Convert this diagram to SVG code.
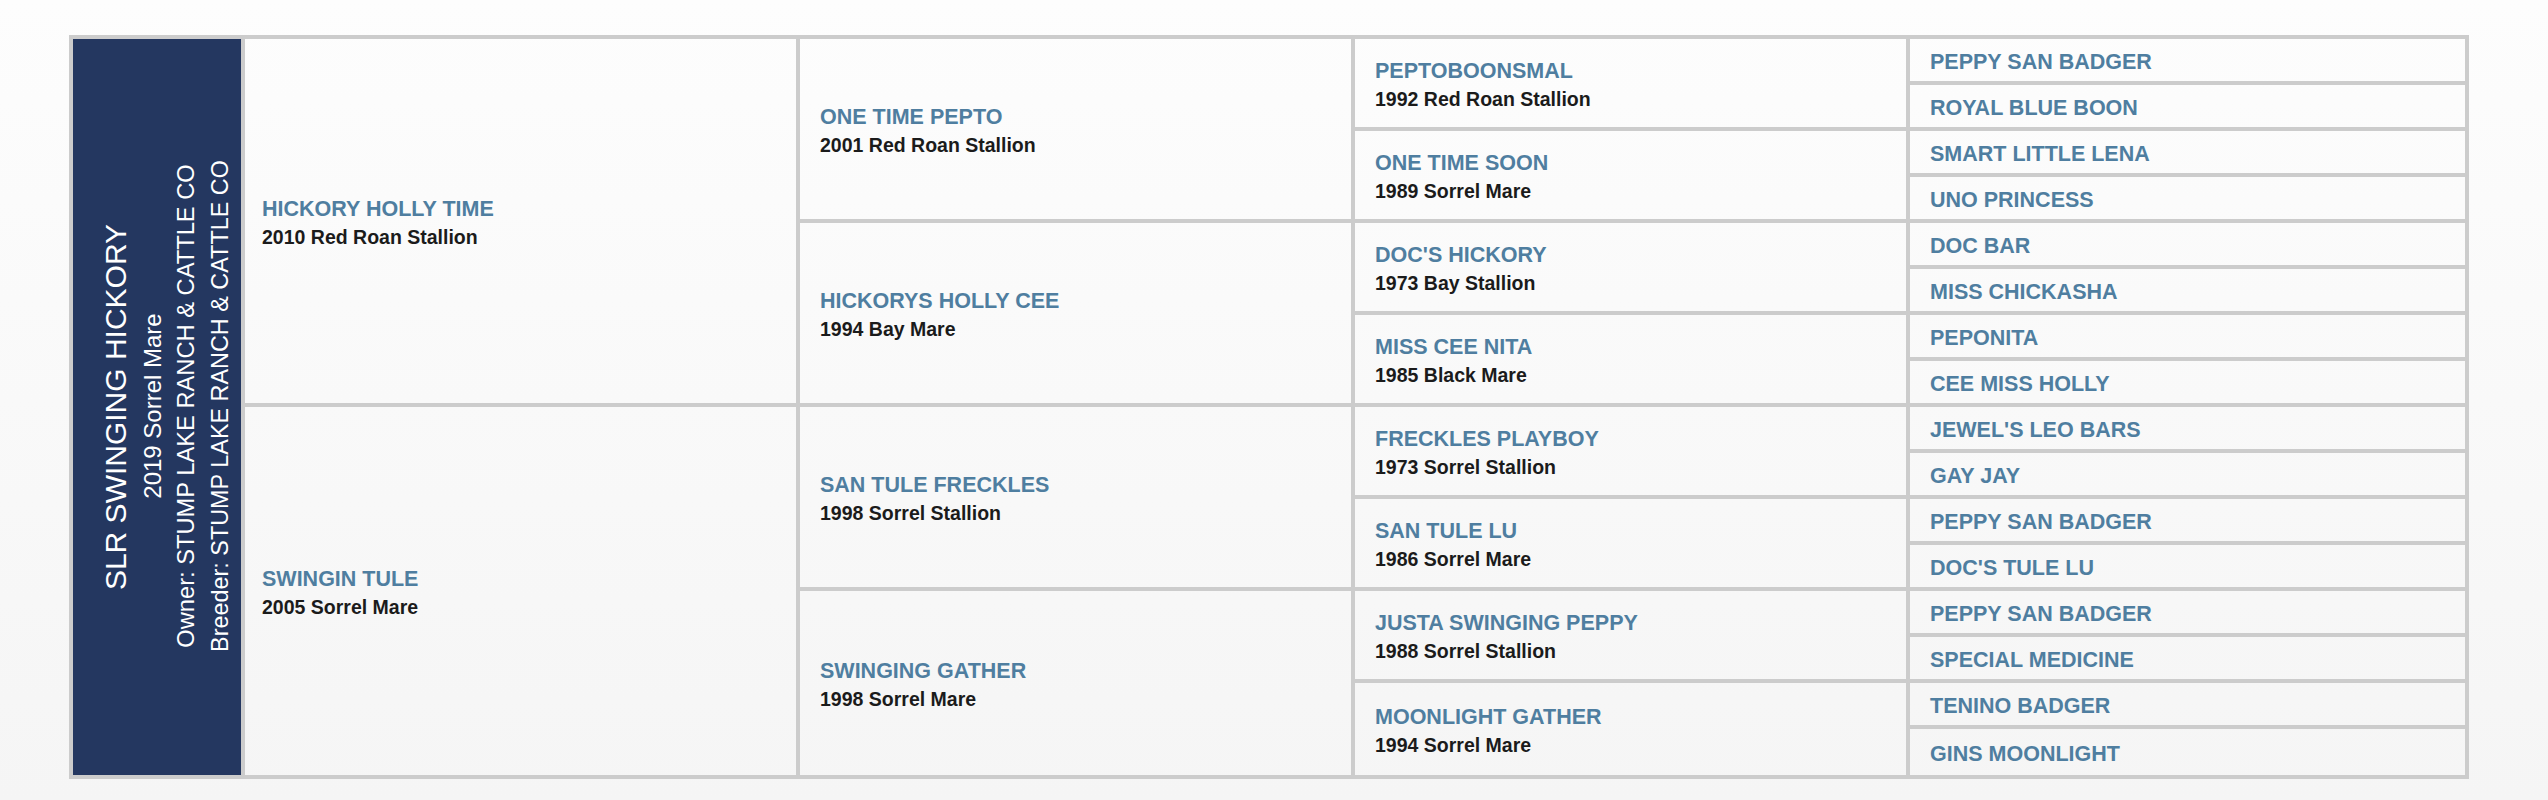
<svg xmlns="http://www.w3.org/2000/svg" width="2548" height="800" viewBox="0 0 2548 800">
<defs>
<linearGradient id="bg" x1="0" y1="0" x2="0" y2="800" gradientUnits="userSpaceOnUse">
<stop offset="0" stop-color="#fdfdfd"/>
<stop offset="1" stop-color="#f5f5f5"/>
</linearGradient>
<style>
.cell{fill:url(#bg);}
.t{font-family:"Liberation Sans",Arial,sans-serif;font-weight:bold;font-size:21.5px;fill:#4f7ea0;}
.s{font-family:"Liberation Sans",Arial,sans-serif;font-weight:bold;font-size:19.5px;fill:#1b1b1b;}
.w{font-family:"Liberation Sans",Arial,sans-serif;fill:#ffffff;text-anchor:middle;}
</style>
</defs>
<rect x="0" y="0" width="2548" height="800" fill="url(#bg)"/>
<g id="grid">
<rect x="69" y="35" width="2400" height="744" fill="#cccccc"/>
</g>
<g id="subject">
<rect x="73" y="39" width="168" height="736" fill="#243760"/>
<text class="w" font-size="30" transform="translate(126,407) rotate(-90)">SLR SWINGING HICKORY</text>
<text class="w" font-size="24" transform="translate(161,406) rotate(-90)">2019 Sorrel Mare</text>
<text class="w" font-size="23.7" transform="translate(194,406) rotate(-90)">Owner: STUMP LAKE RANCH &amp; CATTLE CO</text>
<text class="w" font-size="23.4" transform="translate(228,406) rotate(-90)">Breeder: STUMP LAKE RANCH &amp; CATTLE CO</text>
</g>
<g id="sire">
<rect class="cell" x="245" y="39" width="551" height="364"/>
<text class="t" x="262" y="216">HICKORY HOLLY TIME</text>
<text class="s" x="262" y="244">2010 Red Roan Stallion</text>
</g>
<g id="dam">
<rect class="cell" x="245" y="407" width="551" height="368"/>
<text class="t" x="262" y="586">SWINGIN TULE</text>
<text class="s" x="262" y="614">2005 Sorrel Mare</text>
</g>
<g id="ss">
<rect class="cell" x="800" y="39" width="551" height="180"/>
<text class="t" x="820" y="124">ONE TIME PEPTO</text>
<text class="s" x="820" y="152">2001 Red Roan Stallion</text>
</g>
<g id="sd">
<rect class="cell" x="800" y="223" width="551" height="180"/>
<text class="t" x="820" y="308">HICKORYS HOLLY CEE</text>
<text class="s" x="820" y="336">1994 Bay Mare</text>
</g>
<g id="ds">
<rect class="cell" x="800" y="407" width="551" height="180"/>
<text class="t" x="820" y="492">SAN TULE FRECKLES</text>
<text class="s" x="820" y="520">1998 Sorrel Stallion</text>
</g>
<g id="dd">
<rect class="cell" x="800" y="591" width="551" height="184"/>
<text class="t" x="820" y="678">SWINGING GATHER</text>
<text class="s" x="820" y="706">1998 Sorrel Mare</text>
</g>
<g id="sss">
<rect class="cell" x="1355" y="39" width="551" height="88"/>
<text class="t" x="1375" y="78">PEPTOBOONSMAL</text>
<text class="s" x="1375" y="106">1992 Red Roan Stallion</text>
</g>
<g id="ssd">
<rect class="cell" x="1355" y="131" width="551" height="88"/>
<text class="t" x="1375" y="170">ONE TIME SOON</text>
<text class="s" x="1375" y="198">1989 Sorrel Mare</text>
</g>
<g id="sds">
<rect class="cell" x="1355" y="223" width="551" height="88"/>
<text class="t" x="1375" y="262">DOC'S HICKORY</text>
<text class="s" x="1375" y="290">1973 Bay Stallion</text>
</g>
<g id="sdd">
<rect class="cell" x="1355" y="315" width="551" height="88"/>
<text class="t" x="1375" y="354">MISS CEE NITA</text>
<text class="s" x="1375" y="382">1985 Black Mare</text>
</g>
<g id="dss">
<rect class="cell" x="1355" y="407" width="551" height="88"/>
<text class="t" x="1375" y="446">FRECKLES PLAYBOY</text>
<text class="s" x="1375" y="474">1973 Sorrel Stallion</text>
</g>
<g id="dsd">
<rect class="cell" x="1355" y="499" width="551" height="88"/>
<text class="t" x="1375" y="538">SAN TULE LU</text>
<text class="s" x="1375" y="566">1986 Sorrel Mare</text>
</g>
<g id="dds">
<rect class="cell" x="1355" y="591" width="551" height="88"/>
<text class="t" x="1375" y="630">JUSTA SWINGING PEPPY</text>
<text class="s" x="1375" y="658">1988 Sorrel Stallion</text>
</g>
<g id="ddd">
<rect class="cell" x="1355" y="683" width="551" height="92"/>
<text class="t" x="1375" y="724">MOONLIGHT GATHER</text>
<text class="s" x="1375" y="752">1994 Sorrel Mare</text>
</g>
<g id="g5-1"><rect class="cell" x="1910" y="39" width="555" height="42"/><text class="t" x="1930" y="69">PEPPY SAN BADGER</text></g>
<g id="g5-2"><rect class="cell" x="1910" y="85" width="555" height="42"/><text class="t" x="1930" y="115">ROYAL BLUE BOON</text></g>
<g id="g5-3"><rect class="cell" x="1910" y="131" width="555" height="42"/><text class="t" x="1930" y="161">SMART LITTLE LENA</text></g>
<g id="g5-4"><rect class="cell" x="1910" y="177" width="555" height="42"/><text class="t" x="1930" y="207">UNO PRINCESS</text></g>
<g id="g5-5"><rect class="cell" x="1910" y="223" width="555" height="42"/><text class="t" x="1930" y="253">DOC BAR</text></g>
<g id="g5-6"><rect class="cell" x="1910" y="269" width="555" height="42"/><text class="t" x="1930" y="299">MISS CHICKASHA</text></g>
<g id="g5-7"><rect class="cell" x="1910" y="315" width="555" height="42"/><text class="t" x="1930" y="345">PEPONITA</text></g>
<g id="g5-8"><rect class="cell" x="1910" y="361" width="555" height="42"/><text class="t" x="1930" y="391">CEE MISS HOLLY</text></g>
<g id="g5-9"><rect class="cell" x="1910" y="407" width="555" height="42"/><text class="t" x="1930" y="437">JEWEL'S LEO BARS</text></g>
<g id="g5-10"><rect class="cell" x="1910" y="453" width="555" height="42"/><text class="t" x="1930" y="483">GAY JAY</text></g>
<g id="g5-11"><rect class="cell" x="1910" y="499" width="555" height="42"/><text class="t" x="1930" y="529">PEPPY SAN BADGER</text></g>
<g id="g5-12"><rect class="cell" x="1910" y="545" width="555" height="42"/><text class="t" x="1930" y="575">DOC'S TULE LU</text></g>
<g id="g5-13"><rect class="cell" x="1910" y="591" width="555" height="42"/><text class="t" x="1930" y="621">PEPPY SAN BADGER</text></g>
<g id="g5-14"><rect class="cell" x="1910" y="637" width="555" height="42"/><text class="t" x="1930" y="667">SPECIAL MEDICINE</text></g>
<g id="g5-15"><rect class="cell" x="1910" y="683" width="555" height="42"/><text class="t" x="1930" y="713">TENINO BADGER</text></g>
<g id="g5-16"><rect class="cell" x="1910" y="729" width="555" height="46"/><text class="t" x="1930" y="761">GINS MOONLIGHT</text></g>
</svg>
